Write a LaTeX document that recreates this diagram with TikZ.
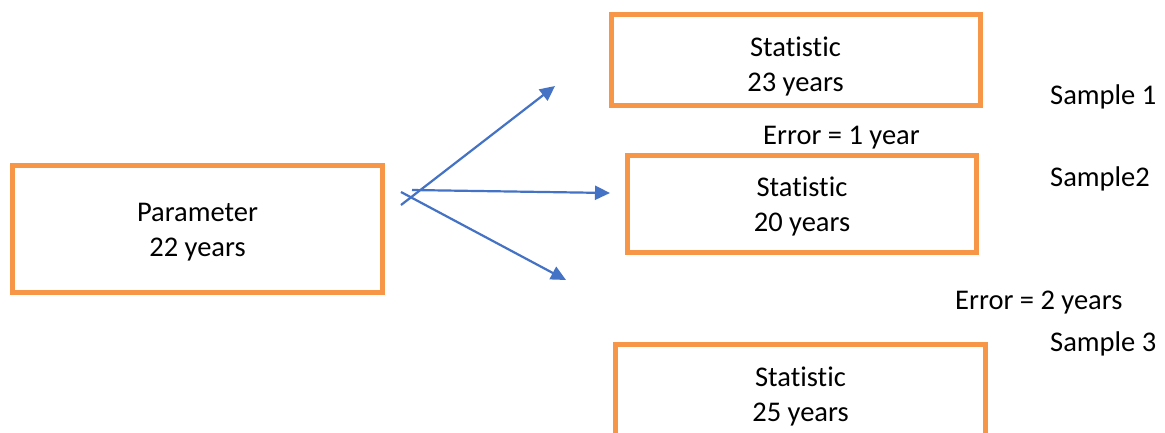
\documentclass[tikz,border=0pt]{standalone}
\usepackage{fontspec}
\setmainfont{Carlito}[Ligatures=NoCommon]
\usetikzlibrary{arrows.meta}
\definecolor{boxorange}{HTML}{F79646}
\definecolor{arrowblue}{HTML}{4472C4}
\tikzset{
  valuebox/.style={draw=boxorange, line width=5pt, fill=white, inner sep=0pt},
  boxtext/.style={align=center, inner sep=0pt, text depth=0pt,
    font=\fontsize{28.5}{35}\selectfont},
  tag/.style={anchor=base west, inner sep=0pt, font=\fontsize{28.5}{35}\selectfont},
  samplearrow/.style={draw=arrowblue, line width=2.2pt,
    -{Triangle[length=15pt,width=14pt]}}
}
\begin{document}
\begin{tikzpicture}[x=1pt,y=-1pt]
  \useasboundingbox (0,0) rectangle (1165,432);
  \clip (0,0) rectangle (1165,432);
  \fill[white] (0,0) rectangle (1165,432);

  % population value and the three sample values
  \node[valuebox, minimum width=370pt, minimum height=127pt] (param) at (197.5,229) {};
  \node[valuebox, minimum width=369pt, minimum height=91pt] (stat1) at (795.5,60) {};
  \node[valuebox, minimum width=349pt, minimum height=97pt] (stat2) at (802,204) {};
  \node[valuebox, minimum width=370pt, minimum height=100pt] (stat3) at (800.5,394.5) {};

  \node[boxtext] (paramtext) at ([yshift=-0.5pt]param.center) {Parameter\\22 years};
  \node[boxtext] (stat1text) at ([yshift=-4.5pt]stat1.center) {Statistic\\23 years};
  \node[boxtext] (stat2text) at ([yshift=-0.5pt]stat2.center) {Statistic\\20 years};
  \node[boxtext] (stat3text) at ([yshift=0.5pt]stat3.center) {Statistic\\25 years};

  % side labels
  \node[tag] (s1) at (1050,104) {Sample 1};
  \node[tag] (s2) at (1050,186) {Sample2};
  \node[tag] (s3) at (1050,351) {Sample 3};
  \node[tag] (e1) at (763,144) {Error = 1 year};
  \node[tag] (e2) at (955,309) {Error = 2 years};

  % sampling arrows
  \coordinate (a1s) at (401,205);
  \coordinate (a1e) at (555,86);
  \coordinate (a2s) at (412,190);
  \coordinate (a2e) at (610,193);
  \coordinate (a3s) at (401,192);
  \coordinate (a3e) at (566,280);
  \draw[samplearrow] (a1s) -- (a1e);
  \draw[samplearrow] (a2s) -- (a2e);
  \draw[samplearrow] (a3s) -- (a3e);
\end{tikzpicture}
\end{document}
